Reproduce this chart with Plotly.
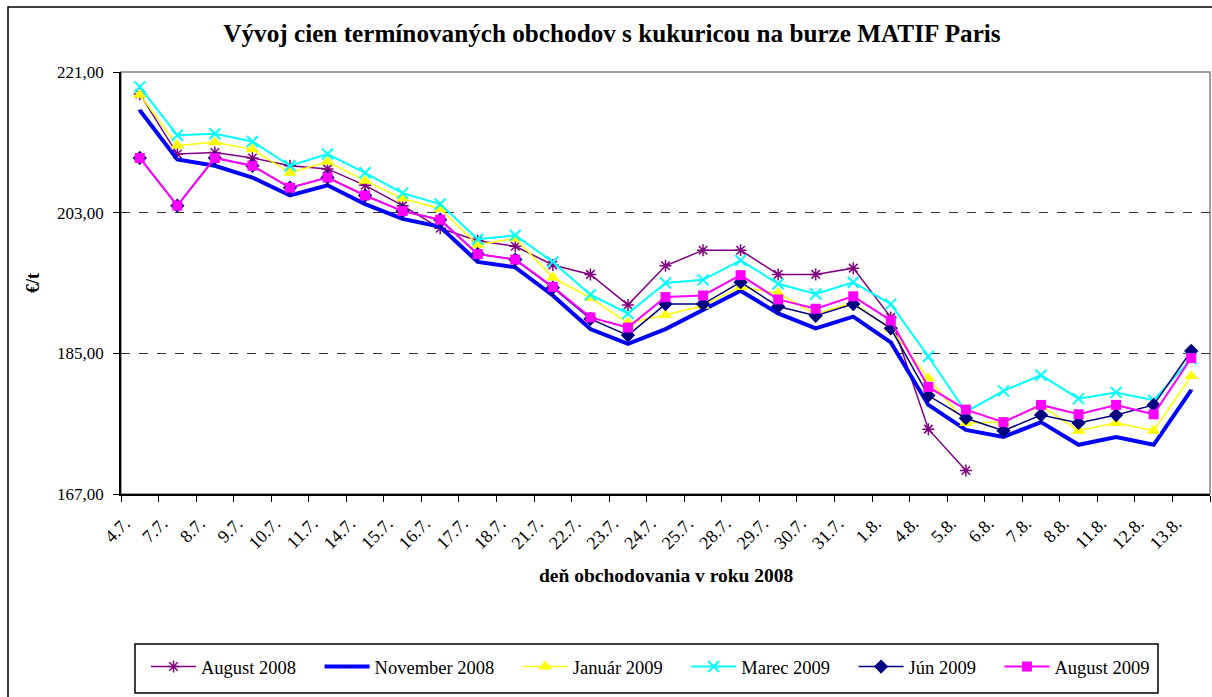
import plotly.graph_objects as go

categories = ["4.7.", "7.7.", "8.7.", "9.7.", "10.7.", "11.7.", "14.7.", "15.7.",
              "16.7.", "17.7.", "18.7.", "21.7.", "22.7.", "23.7.", "24.7.", "25.7.",
              "28.7.", "29.7.", "30.7.", "31.7.", "1.8.", "4.8.", "5.8.", "6.8.",
              "7.8.", "8.8.", "11.8.", "12.8.", "13.8."]

aug_2008 = [218.2, 210.5, 210.7, 210.0, 209.0, 208.6, 206.5, 203.9, 201.0, 199.4, 198.7, 196.3,
            195.1, 191.2, 196.2, 198.2, 198.2, 195.1, 195.1, 195.9, 189.6, 175.3, 170.0,
            None, None, None, None, None, None]
nov_2008 = [216.1, 209.8, 209.0, 207.5, 205.2, 206.5, 204.1, 202.2, 201.2, 196.7, 196.0, 192.4,
            188.1, 186.2, 188.1, 190.6, 193.0, 190.1, 188.2, 189.7, 186.4, 178.4, 175.2, 174.3,
            176.2, 173.3, 174.3, 173.3, 180.3]
jan_2009 = [218.1, 211.6, 212.0, 211.1, 208.1, 209.5, 207.1, 204.8, 203.5, 198.9, 199.7, 194.7,
            192.1, 188.9, 189.9, 191.1, 193.5, 192.7, 190.0, 191.5, 188.1, 181.8, 176.1, 176.2,
            178.3, 175.1, 176.1, 175.1, 182.1]
mar_2009 = [219.1, 212.9, 213.1, 212.1, 209.0, 210.5, 208.1, 205.5, 204.1, 199.6, 200.1, 196.7,
            192.5, 190.1, 194.0, 194.4, 196.9, 193.9, 192.6, 194.1, 191.3, 184.6, 177.5, 180.2,
            182.2, 179.2, 180.0, 179.0, 184.3]
jun_2009 = [210.0, 203.9, 210.0, 209.0, 206.2, 207.5, 205.2, 203.2, 202.1, 197.7, 197.0, 193.4,
            189.4, 187.3, 191.3, 191.3, 194.1, 191.0, 189.8, 191.3, 188.2, 179.6, 176.7, 175.1,
            177.1, 176.1, 177.1, 178.4, 185.3]
aug_2009 = [210.0, 203.9, 210.0, 209.0, 206.2, 207.5, 205.2, 203.2, 202.1, 197.7, 197.0, 193.5,
            189.6, 188.3, 192.2, 192.4, 195.0, 191.9, 190.7, 192.3, 189.2, 180.7, 177.8, 176.2,
            178.4, 177.2, 178.4, 177.2, 184.4]

y_ticks = [167, 185, 203, 221]

FONT = "Liberation Serif, Times New Roman, serif"
PAD = "\u00a0" * 4

fig = go.Figure()

series = [
    ("August 2008", aug_2008, "#800080", 1.5, dict(symbol="asterisk-open", size=10, color="#800080",
                                                  line=dict(color="#800080", width=1.5))),
    ("November 2008", nov_2008, "#0000FF", 4, dict(symbol="line-ew-open", size=3, color="#000080",
                                                  line=dict(color="#000080", width=1))),
    ("Január 2009", jan_2009, "#FFFF00", 1.5, dict(symbol="triangle-up", size=12, color="#FFFF00",
                                                  line=dict(color="#FFFF00", width=0))),
    ("Marec 2009", mar_2009, "#00FFFF", 2, dict(symbol="x-thin-open", size=11, color="#00FFFF",
                                               line=dict(color="#00FFFF", width=2))),
    ("Jún 2009", jun_2009, "#000080", 1.5, dict(symbol="diamond", size=11, color="#000080",
                                               line=dict(color="#000080", width=0))),
    ("August 2009", aug_2009, "#FF00FF", 2, dict(symbol="square", size=10, color="#FF00FF",
                                                line=dict(color="#FF00FF", width=0))),
]

for name, vals, col, w, mk in series:
    fig.add_trace(go.Scatter(
        x=categories, y=vals, name=name + PAD, mode="lines+markers",
        line=dict(color=col, width=w), marker=mk, connectgaps=False,
    ))

PLOT_L, PLOT_R, PLOT_T, PLOT_B = 121, 1210, 72, 494
PW, PH = PLOT_R - PLOT_L, PLOT_B - PLOT_T


def px(x):
    return (x - PLOT_L) / PW


def py(y):
    return (PLOT_B - y) / PH


fig.update_layout(
    width=1212, height=697,
    margin=dict(l=PLOT_L, r=1212 - PLOT_R, t=PLOT_T, b=697 - PLOT_B),
    paper_bgcolor="white", plot_bgcolor="white",
    separators=", ",
    font=dict(family=FONT, size=16, color="black"),
    title=dict(text="<b>Vývoj cien termínovaných obchodov s kukuricou na burze MATIF Paris</b>",
               x=612 / 1212, xanchor="center", y=1 - 33 / 697, yanchor="middle",
               font=dict(family=FONT, size=25.2, color="black")),
    showlegend=True,
    legend=dict(orientation="h", x=px(146), xanchor="left", y=py(667), yanchor="middle",
                borderwidth=0, bgcolor="rgba(0,0,0,0)", itemwidth=45,
                font=dict(family=FONT, size=18.5, color="black")),
    xaxis=dict(type="category", range=[-0.5, len(categories) - 0.5], autorange=False,
               tickson="boundaries", ticks="outside", ticklen=6,
               tickcolor="black", showline=True, linecolor="black", linewidth=1.5,
               showgrid=False, tickangle=-45, tickfont=dict(family=FONT, size=18),
               ticklabelstandoff=10, ticklabelshift=-15, mirror=False),
    yaxis=dict(range=[167, 221], autorange=False, tickvals=y_ticks, tickformat=".2f",
               ticks="outside", ticklen=6, tickcolor="black", showline=True,
               linecolor="black", linewidth=1.5,
               showgrid=True, gridcolor="#333333", griddash="dash", gridwidth=1,
               zeroline=False, tickfont=dict(family=FONT, size=17), ticklabelstandoff=6),
    annotations=[
        dict(text="<b>deň obchodovania v roku 2008</b>", xref="paper", yref="paper",
             x=px(666), y=py(575), xanchor="center", yanchor="middle", showarrow=False,
             font=dict(family=FONT, size=19.5)),
        dict(text="<b>€/t</b>", xref="paper", yref="paper", x=px(33), y=py(283),
             xanchor="center", yanchor="middle", textangle=-90, showarrow=False,
             font=dict(family=FONT, size=18)),
    ],
    shapes=[
        dict(type="rect", xref="paper", yref="paper", x0=0, x1=1, y0=0, y1=1,
             line=dict(color="#808080", width=1.5), layer="below"),
        dict(type="rect", xref="paper", yref="paper", x0=px(8), x1=px(1230), y0=py(720), y1=py(7),
             line=dict(color="black", width=1.5), layer="below"),
        dict(type="rect", xref="paper", yref="paper", x0=px(135), x1=px(1158), y0=py(693), y1=py(644),
             line=dict(color="black", width=1.5), layer="below"),
    ],
)

fig.write_html("out.html", config={"displayModeBar": False},
               post_script="document.body.style.margin='0';")
